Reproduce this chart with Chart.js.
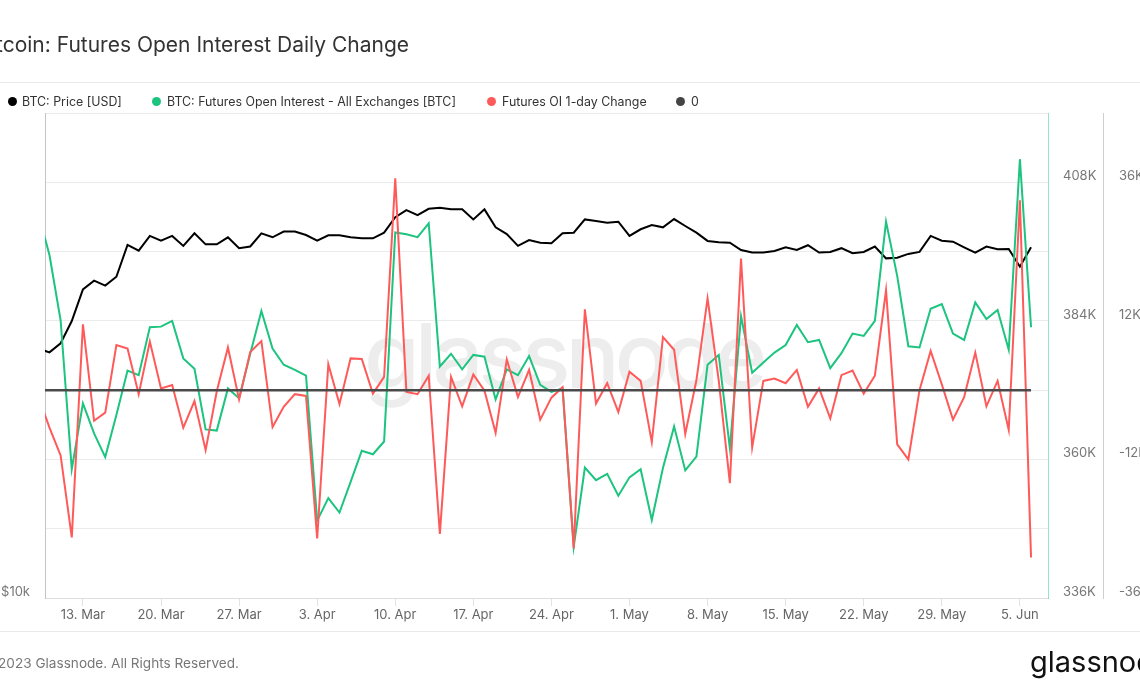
<!DOCTYPE html>
<html>
<head>
<meta charset="utf-8">
<script src="https://cdn.jsdelivr.net/npm/chart.js@4.4.0/dist/chart.umd.min.js"></script>
<style>
  html, body { margin: 0; padding: 0; background: #fff; overflow: hidden; }
  body { width: 1140px; height: 694px; position: relative; font-family: Inter, "Noto Sans", sans-serif; }
  #chart { position: absolute; left: 0; top: 0; }
  .sep { position: absolute; left: 0; width: 1140px; height: 1px; background: #e9e9e9; }
  #title { position: absolute; right: 731px; top: 35px; font-size: 21px; line-height: 20px; color: #333; white-space: nowrap; }
  .item { position: absolute; top: 95px; font-size: 12.4px; line-height: 13px; color: #333; white-space: nowrap; }
  .dot { position: absolute; top: 2px; width: 9px; height: 9px; border-radius: 50%; }
  #footer { position: absolute; right: 901px; top: 656px; font-size: 13.6px; line-height: 14px; color: #777; white-space: nowrap; }
  #logo { position: absolute; left: 1030px; top: 647px; font-size: 29px; line-height: 29px; color: #111; white-space: nowrap; }
</style>
</head>
<body>
<canvas id="chart" width="1140" height="694"></canvas>
<div id="title">Bitcoin: Futures Open Interest Daily Change</div>
<div class="sep" style="top:82px"></div>
<div class="item" style="left:22px"><span class="dot" style="left:-14px;background:#000"></span>BTC: Price [USD]</div>
<div class="item" style="left:167px"><span class="dot" style="left:-15px;background:#1cc47f"></span>BTC: Futures Open Interest - All Exchanges [BTC]</div>
<div class="item" style="left:502px"><span class="dot" style="left:-15px;background:#ff5a5a"></span>Futures OI 1-day Change</div>
<div class="item" style="left:691px"><span class="dot" style="left:-15px;background:#444"></span>0</div>
<div class="sep" style="top:631px"></div>
<div id="footer">© 2023 Glassnode. All Rights Reserved.</div>
<div id="logo">glassnode</div>
<script>
// daily values, first entry = 9 Mar 2023, last = 6 Jun 2023
const startDate = "2023-03-09";

const price = [20400,
  20180, 20710, 22070, 24160, 24770, 24420, 25050, 27440, 26990, 28150, 27770, 28150, 27360, 28360, 27480, 27480,
  28040, 27180, 27310, 28360, 28040, 28500, 28500, 28220, 27770, 28200, 28200, 28040, 27960, 27960, 28410,
  29690, 30310, 29880, 30420, 30510, 30370, 30370, 29510, 30370, 28850, 28300, 27360, 27820, 27610, 27560,
  28360, 28410, 29510, 29380, 29240, 29320, 28150, 28690, 29040, 28850, 29540, 28960, 28410, 27750, 27640,
  27610, 27040, 26840, 26840, 26960, 27250, 27040, 27410, 26840, 26890, 27180, 26790, 26890, 27310, 26400, 26450,
  26740, 26890, 28150, 27770, 27690, 27250, 26840, 27310, 27090, 27120, 25780, 27250];

// thousands of BTC
const openInterest = [402.6,
  395.4, 384.1, 358.3, 369.7, 364.5, 360.4, 367.7, 375.4, 374.6, 382.9, 383.0, 384.0, 377.5, 375.7, 365.2, 365.0,
  372.3, 370.6, 378.3, 385.7, 379.2, 376.4, 375.5, 374.5, 349.4, 353.3, 350.8, 356.1, 361.5, 360.9, 363.1,
  399.3, 399.0, 398.5, 400.9, 376.1, 378.3, 375.6, 378.1, 377.8, 370.4, 375.6, 374.6, 377.9, 372.9, 371.7,
  372.3, 344.9, 358.6, 356.4, 357.5, 353.7, 356.9, 358.3, 349.5, 358.5, 365.7, 358.1, 360.5, 376.4, 378.1,
  361.9, 384.8, 375.0, 376.8, 378.5, 379.8, 383.3, 380.3, 380.7, 375.8, 378.4, 381.8, 381.4, 384.0, 401.2, 391.8,
  379.6, 379.4, 386.1, 386.9, 381.8, 380.7, 387.2, 384.3, 385.9, 379.0, 412.0, 382.9];

// thousands of BTC
const oiChange = [-1.0,
  -6.5, -11.3, -25.5, 11.4, -5.3, -3.9, 7.8, 7.2, -0.7, 8.4, 0.3, 0.9, -6.5, -1.9, -10.4, -0.2,
  7.4, -1.6, 6.6, 8.5, -6.4, -2.9, -0.7, -1.0, -25.7, 4.5, -2.4, 5.5, 5.4, -0.6, 2.3,
  36.7, -0.3, -0.7, 2.5, -24.9, 2.3, -2.8, 2.7, -0.1, -7.4, 5.3, -1.2, 3.5, -5.1, -1.3,
  0.5, -27.4, 14.0, -2.3, 1.2, -3.8, 3.2, 1.6, -9.0, 9.2, 7.0, -7.6, 1.7, 15.9, 1.7,
  -16.1, 22.8, -9.9, 1.6, 2.0, 1.2, 3.5, -2.9, 0.3, -4.9, 2.6, 3.4, -0.6, 2.5, 17.3, -9.4,
  -12.0, 0.0, 6.8, 1.0, -5.1, -1.2, 6.5, -2.8, 1.6, -6.9, 32.9, -29.0];

const tickDates = ["2023-03-13", "2023-03-20", "2023-03-27", "2023-04-03", "2023-04-10", "2023-04-17", "2023-04-24",
  "2023-05-01", "2023-05-08", "2023-05-15", "2023-05-22", "2023-05-29", "2023-06-05"];
const tickLabels = ["13. Mar", "20. Mar", "27. Mar", "3. Apr", "10. Apr", "17. Apr", "24. Apr",
  "1. May", "8. May", "15. May", "22. May", "29. May", "5. Jun"];
const priceTicks = [10000];
const priceTickLabels = ["$10k"];
const oiTicks = [336, 360, 384, 408];
const changeTicks = [-36, -12, 12, 36];

const dayIndex = d => Math.round((Date.parse(d) - Date.parse(startDate)) / 864e5);
const points = arr => arr.map((v, i) => ({ x: i, y: v }));
const zeroLine = price.map(() => 0);

const watermark = {
  id: "watermark",
  beforeDatasetsDraw(chart) {
    const ctx = chart.ctx;
    ctx.save();
    ctx.font = "500 90px Inter";
    ctx.letterSpacing = "-5px";
    ctx.fillStyle = "#ededed";
    ctx.textBaseline = "alphabetic";
    ctx.fillText("glassnode", 364, 388);
    ctx.restore();
  }
};

const tickFont = { family: "Inter", size: 13 };

new Chart(document.getElementById("chart").getContext("2d"), {
  type: "line",
  data: {
    datasets: [
      { label: "BTC: Price [USD]", data: points(price), yAxisID: "yPrice", borderColor: "#000", borderWidth: 2, order: 3 },
      { label: "BTC: Futures Open Interest - All Exchanges [BTC]", data: points(openInterest), yAxisID: "yOI", borderColor: "#1cc47f", borderWidth: 2, order: 2 },
      { label: "Futures OI 1-day Change", data: points(oiChange), yAxisID: "yChg", borderColor: "#ff5a5a", borderWidth: 2, order: 1 },
      { label: "0", data: points(zeroLine), yAxisID: "yChg", borderColor: "#4a4a4a", borderWidth: 2.5, order: 0 }
    ]
  },
  options: {
    responsive: false,
    animation: false,
    layout: { padding: { top: 113, bottom: 66, left: 0, right: 0 } },
    elements: { point: { radius: 0 }, line: { tension: 0 } },
    plugins: { legend: { display: false }, tooltip: { enabled: false } },
    scales: {
      x: {
        type: "linear",
        min: 0.6,
        max: 90.52,
        afterBuildTicks: s => { s.ticks = tickDates.map(d => ({ value: dayIndex(d) })); },
        ticks: { autoSkip: false, maxRotation: 0, padding: 1, color: "#666", font: tickFont,
          callback: (v, i) => tickLabels[i] },
        grid: { drawOnChartArea: false, drawTicks: true, tickLength: 8, color: "#e3e3e3" },
        border: { color: "#dedede" },
        afterFit: s => { s.height = 30; }
      },
      yPrice: {
        type: "logarithmic",
        position: "left",
        min: 10000,
        max: 40000,
        afterBuildTicks: s => { s.ticks = priceTicks.map(v => ({ value: v })); },
        ticks: { padding: 15, labelOffset: -6, color: "#777", font: tickFont,
          callback: (v, i) => priceTickLabels[i] },
        grid: { display: false, drawTicks: false },
        border: { color: "#c4c4c4" },
        afterFit: s => { s.width = 45; }
      },
      yOI: {
        type: "linear",
        position: "right",
        weight: 0,
        min: 336,
        max: 420,
        ticks: { stepSize: 12, padding: 15, labelOffset: -6, color: "#777", font: tickFont,
          callback: v => oiTicks.includes(v) ? v + "K" : "" },
        grid: { color: "#ebebeb", drawTicks: false },
        border: { color: "rgba(28,196,127,0.45)" },
        afterFit: s => { s.width = 55; }
      },
      yChg: {
        type: "linear",
        position: "right",
        weight: 1,
        min: -36,
        max: 48,
        ticks: { stepSize: 12, padding: 16, labelOffset: -6, color: "#777", font: tickFont,
          callback: v => changeTicks.includes(v) ? v + "K" : "" },
        grid: { display: false, drawTicks: false },
        border: { color: "#cfcfcf" },
        afterFit: s => { s.width = 37; }
      }
    }
  },
  plugins: [watermark]
});
</script>
</body>
</html>
